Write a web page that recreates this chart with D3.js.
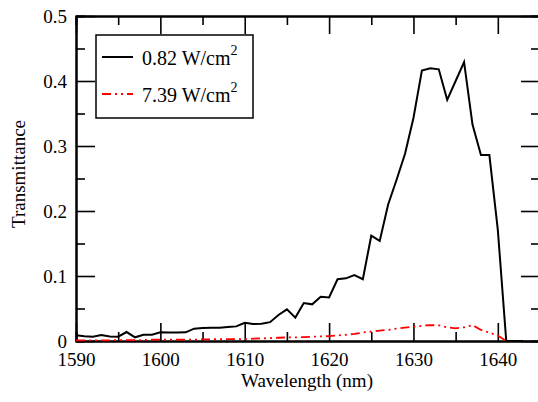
<!DOCTYPE html>
<html>
<head>
<meta charset="utf-8">
<script src="https://cdnjs.cloudflare.com/ajax/libs/d3/7.8.5/d3.min.js"></script>
<style>
body { margin: 0; background: #fff; }
.axis path, .axis line { stroke: #000; }
.axis .domain { stroke-width: 2; }
.axis .tick line { stroke-width: 1.6; }
</style>
</head>
<body>
<div id="chart"></div>
<script>

// wavelength in nm, one reading per nm
var wavelength = [1590, 1591, 1592, 1593, 1594, 1595, 1596, 1597, 1598, 1599,
  1600, 1601, 1602, 1603, 1604, 1605, 1606, 1607, 1608, 1609,
  1610, 1611, 1612, 1613, 1614, 1615, 1616, 1617, 1618, 1619,
  1620, 1621, 1622, 1623, 1624, 1625, 1626, 1627, 1628, 1629,
  1630, 1631, 1632, 1633, 1634, 1635, 1636, 1637, 1638, 1639,
  1640, 1641, 1642, 1643]

// 0.82 W/cm2
var lowPower = [0.0088, 0.0072, 0.0066, 0.0092, 0.0070, 0.0066, 0.0138, 0.0057, 0.0097, 0.0097,
  0.0133, 0.0130, 0.0130, 0.0133, 0.0190, 0.0200, 0.0205, 0.0205, 0.0215, 0.0225,
  0.0280, 0.0260, 0.0266, 0.0290, 0.0400, 0.0487, 0.0360, 0.0585, 0.0564, 0.0680,
  0.0670, 0.0950, 0.0964, 0.1015, 0.0950, 0.1620, 0.1540, 0.2100, 0.2480, 0.2880,
  0.3430, 0.4160, 0.4195, 0.4180, 0.3710, 0.4000, 0.4290, 0.3330, 0.2860, 0.2860,
  0.1710, 0, 0, 0]

// 7.39 W/cm2
var highPower = [0.0010, 0.0010, 0.0010, 0.0010, 0.0010, 0.0015, 0.0015, 0.0015, 0.0015, 0.0020,
  0.0020, 0.0020, 0.0020, 0.0020, 0.0020, 0.0025, 0.0025, 0.0030, 0.0030, 0.0030,
  0.0030, 0.0035, 0.0040, 0.0045, 0.0050, 0.0055, 0.0055, 0.0060, 0.0065, 0.0070,
  0.0075, 0.0085, 0.0095, 0.0110, 0.0130, 0.0145, 0.0160, 0.0170, 0.0190, 0.0205,
  0.0220, 0.0235, 0.0245, 0.0240, 0.0210, 0.0195, 0.0210, 0.0245, 0.0170, 0.0130,
  0.0085, 0, 0, 0]

var seriesNames = ['0.82 W/cm', '7.39 W/cm']

var xTicks = [1590, 1600, 1610, 1620, 1630, 1640]
var xMinorTicks = [1595, 1605, 1615, 1625, 1635, 1645]
var yTicks = [0, 0.1, 0.2, 0.3, 0.4, 0.5]
var yTickLabels = ['0', '0.1', '0.2', '0.3', '0.4', '0.5']
var yMinorTicks = [0.05, 0.15, 0.25, 0.35, 0.45]

var serif = '"Liberation Serif", "Times New Roman", Times, serif'

var margin = {left: 76, right: -2, top: 16, bottom: 61}
var totalWidth = 538, totalHeight = 402
var width = totalWidth - margin.left - margin.right
var height = totalHeight - margin.top - margin.bottom

var svg = d3.select('#chart').append('svg')
  .attr('width', totalWidth)
  .attr('height', totalHeight)

var g = svg.append('g').attr('transform', 'translate(' + margin.left + ',' + margin.top + ')')

var x = d3.scaleLinear().domain([1590, 1645]).range([0, width])
var y = d3.scaleLinear().domain([0, 0.5]).range([height, 0])

// axes, all ticks point inward
g.append('g').attr('class', 'axis')
  .attr('transform', 'translate(0,' + height + ')')
  .call(d3.axisBottom(x).tickValues(xTicks).tickSizeInner(-18).tickSizeOuter(0).tickPadding(12).tickFormat(d3.format('d')))
g.append('g').attr('class', 'axis')
  .attr('transform', 'translate(0,' + height + ')')
  .call(d3.axisBottom(x).tickValues(xMinorTicks).tickSize(-9).tickFormat(''))
g.append('g').attr('class', 'axis')
  .call(d3.axisTop(x).tickValues(xTicks).tickSizeInner(-18).tickSizeOuter(0).tickFormat(''))
g.append('g').attr('class', 'axis')
  .call(d3.axisTop(x).tickValues(xMinorTicks).tickSize(-9).tickFormat(''))

g.append('g').attr('class', 'axis')
  .call(d3.axisLeft(y).tickValues(yTicks).tickSizeInner(-19).tickSizeOuter(0).tickPadding(9)
    .tickFormat(function(d, i){ return yTickLabels[i] }))
g.append('g').attr('class', 'axis')
  .call(d3.axisLeft(y).tickValues(yMinorTicks).tickSize(-9).tickFormat(''))
g.append('g').attr('class', 'axis')
  .attr('transform', 'translate(' + width + ',0)')
  .call(d3.axisRight(y).tickValues(yTicks).tickSizeInner(-19).tickSizeOuter(0).tickFormat(''))
g.append('g').attr('class', 'axis')
  .attr('transform', 'translate(' + width + ',0)')
  .call(d3.axisRight(y).tickValues(yMinorTicks).tickSize(-9).tickFormat(''))

g.selectAll('.axis').attr('font-family', serif).attr('font-size', 19)
g.selectAll('.axis text').style('font-family', serif).style('font-size', '19px').style('fill', '#000')

// axis titles
g.append('text')
  .attr('x', (x(1590) + x(1645)) / 2 - 1)
  .attr('y', height + 46)
  .attr('text-anchor', 'middle')
  .style('font-family', serif)
  .style('font-size', '19px')
  .style('fill', '#000')
  .text('Wavelength (nm)')

svg.append('text')
  .attr('transform', 'translate(25,174) rotate(-90)')
  .attr('text-anchor', 'middle')
  .style('font-family', serif)
  .style('font-size', '19px')
  .style('fill', '#000')
  .text('Transmittance')

// data lines
var line = d3.line()
  .x(function(d, i){ return x(wavelength[i]) })
  .y(function(d){ return y(d) })

g.append('path')
  .attr('d', line(highPower))
  .attr('fill', 'none')
  .attr('stroke', '#ff0000')
  .attr('stroke-width', 1.8)
  .attr('stroke-dasharray', '9,4,2,4,2,4')

g.append('path')
  .attr('d', line(lowPower))
  .attr('fill', 'none')
  .attr('stroke', '#000')
  .attr('stroke-width', 2)
  .attr('stroke-linejoin', 'miter')

// legend
var legend = svg.append('g').attr('transform', 'translate(96,35)')

legend.append('rect')
  .attr('width', 157).attr('height', 83)
  .attr('fill', '#fff').attr('stroke', '#000').attr('stroke-width', 1.5)

var legendStyles = [
  {color: '#000', dash: null},
  {color: '#ff0000', dash: '9,4,2,4,2,4'}
]

seriesNames.forEach(function(name, i){
  var cy = 22 + i * 37
  legend.append('line')
    .attr('x1', 6).attr('x2', 37)
    .attr('y1', cy).attr('y2', cy)
    .attr('stroke', legendStyles[i].color)
    .attr('stroke-width', i ? 1.8 : 2)
    .attr('stroke-dasharray', legendStyles[i].dash)
  var t = legend.append('text')
    .attr('x', 46).attr('y', cy + 7.5)
    .style('font-family', serif)
    .style('font-size', '20px')
    .style('fill', '#000')
  t.append('tspan').text(name)
  t.append('tspan').attr('dy', -10).style('font-size', '14px').text('2')
})

</script>
</body>
</html>
